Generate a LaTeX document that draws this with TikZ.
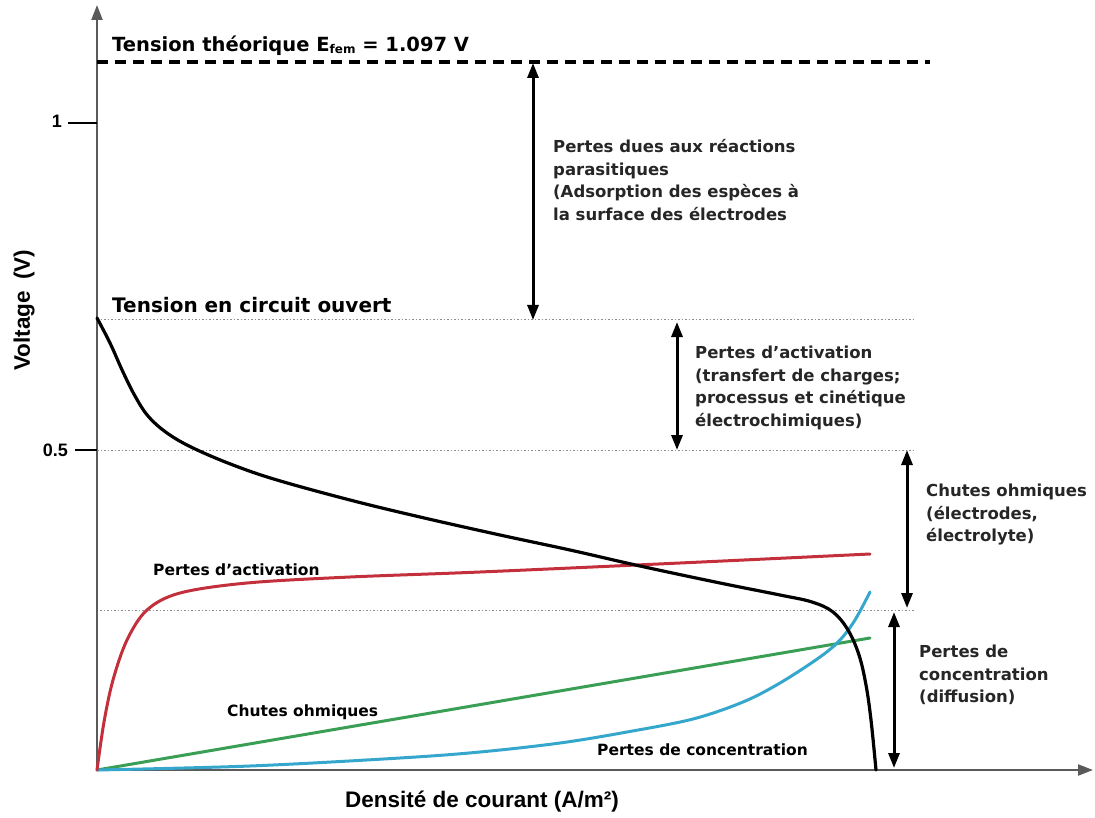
\documentclass[tikz,border=0pt]{standalone}
\usepackage{fontspec}
\setmainfont{DejaVu Sans}
\newfontfamily\arialfont{Liberation Sans}
\usetikzlibrary{arrows.meta, positioning, calc}
\definecolor{axisgray}{HTML}{5A5A5A}
\definecolor{dotgray}{HTML}{8C8C8C}
\definecolor{curveRed}{HTML}{C3303C}
\definecolor{curveGreen}{HTML}{3A9E55}
\definecolor{curveCyan}{HTML}{35A7CC}
\definecolor{noteTxt}{HTML}{262626}
\newcommand{\notesize}{\fontsize{16.5}{22.5}\selectfont}
\newcommand{\curvesize}{\fontsize{15.5}{18}\selectfont}
\newcommand{\levelsize}{\fontsize{19.5}{22}\selectfont}
\newcommand{\axlabsize}{\fontsize{22.5}{26}\selectfont}
\tikzset{
  axisarr/.style={draw=axisgray, line width=2.2pt, -{Triangle[length=15pt, width=11pt]}},
  ticksty/.style={draw=black, line width=2.4pt},
  ticklabel/.style={anchor=east, inner sep=0pt, font=\arialfont\bfseries\fontsize{18}{20}\selectfont},
  levelline/.style={draw=dotgray, line width=1pt, dash pattern=on 1.5pt off 2pt},
  emfline/.style={draw=black, line width=3.8pt, dash pattern=on 11pt off 7pt},
  dblarr/.style={{Triangle[length=15pt, width=11pt]}-{Triangle[length=15pt, width=11pt]}, line width=3pt, draw=black},
  lossnote/.style={anchor=west, align=left, inner sep=0pt, font=\notesize\bfseries, text=noteTxt},
  levellabel/.style={anchor=west, inner sep=0pt, font=\levelsize\bfseries, text=black},
  curvelabel/.style={anchor=west, inner sep=0pt, font=\curvesize\bfseries, text=black},
  curve/.style={line width=3pt, line cap=round, line join=round}
}

\begin{document}
\begin{tikzpicture}[x=1pt, y=-1pt]
\useasboundingbox (0,0) rectangle (1095,818);

% ---------------- Axes ----------------
\coordinate (O) at (97,770);
\coordinate (ytop) at (97,5);
\coordinate (xend) at (1093,770);
\draw[axisarr] (O) -- (ytop);
\draw[axisarr] (O) -- (xend);

\node[ticklabel] (tick1) at (62,121) {1};
\node[ticklabel] (tick05) at (68,450) {0.5};
\draw[ticksty] (tick1.east) ++(6,2) -- (97,123);
\draw[ticksty] (tick05.east) ++(7,0) -- (97,450);

\node[rotate=90, inner sep=0pt, font=\arialfont\bfseries\axlabsize] (ylab) at (24,310) {Voltage\enspace(V)};
\node[anchor=west, inner sep=0pt, font=\arialfont\bfseries\axlabsize] (xlab) at (345,802) {Densité de courant (A/m²)};

% ---------------- Voltage levels ----------------
\coordinate (emfL) at (97,62);    \coordinate (emfR) at (930,62);
\coordinate (ocvL) at (97,320);   \coordinate (ocvR) at (915,320);
\coordinate (halfL) at (97,450);  \coordinate (halfR) at (915,450);
\coordinate (lowL) at (100,610);  \coordinate (lowR) at (915,610);
\draw[emfline] (emfL) -- (emfR);
\draw[levelline] (ocvL) -- (ocvR);
\draw[levelline] (halfL) -- (halfR);
\draw[levelline] (lowL) -- (lowR);

\node[levellabel] (efem) at (112,46)
  {Tension théorique E\raisebox{-2pt}{\fontsize{12}{12}\selectfont fem} = 1.097 V};
\node[levellabel, font=\fontsize{20}{22}\selectfont\bfseries] (ocv) at (112,305) {Tension en circuit ouvert};

% ---------------- Loss arrows ----------------
\coordinate (parTop) at (533,63);   \coordinate (parBot) at (533,320);
\coordinate (actTop) at (677,322);  \coordinate (actBot) at (677,450);
\coordinate (ohmTop) at (907,450);  \coordinate (ohmBot) at (907,608);
\coordinate (conTop) at (894,612);  \coordinate (conBot) at (894,768);
\draw[dblarr] (parTop) -- (parBot);
\draw[dblarr] (actTop) -- (actBot);
\draw[dblarr] (ohmTop) -- (ohmBot);
\draw[dblarr] (conTop) -- (conBot);

\node[lossnote] (parasit) at (553,180) {Pertes dues aux réactions\\parasitiques\\(Adsorption des espèces à\\la surface des électrodes};
\node[lossnote] (activ) at (695,388) {Pertes d'activation\\(transfert de charges;\\processus et cinétique\\électrochimiques)};
\node[lossnote] (ohmic) at (926,515) {Chutes ohmiques\\(électrodes,\\électrolyte)};
\node[lossnote] (concen) at (919,675) {Pertes de\\concentration\\(diffusion)};

% ---------------- Curves ----------------
\draw[curve, curveGreen] (O) -- (870,638);
\draw[curve, curveCyan] plot[smooth, tension=0.55] coordinates {
  (97,770) (250,766) (400,758) (480,752) (560,743) (627,732) (693,719)
  (743,702) (780,683) (820,657) (840,640) (855,620) (870,592)};
\draw[curve, curveRed] plot[smooth, tension=0.55] coordinates {
  (97,770) (104,722) (113,680) (127,640) (147,610) (180,593) (247,583)
  (350,577) (480,572) (680,563) (870,554)};
\draw[curve, black, line width=3.2pt] plot[smooth, tension=0.6] coordinates {
  (97,318) (110,343) (123,372) (135,396) (148,416) (167,433) (193,448)
  (233,465) (277,480) (350,500) (420,517) (500,535) (570,550) (640,566)
  (720,583) (780,595) (812,602) (833,612) (848,630) (859,655) (866,685)
  (871,720) (876,770)};

\node[curvelabel] (labAct) at (153,570) {Pertes d'activation};
\node[curvelabel] (labOhm) at (227,712) {Chutes ohmiques};
\node[curvelabel] (labCon) at (597,750) {Pertes de concentration};

\end{tikzpicture}
\end{document}
